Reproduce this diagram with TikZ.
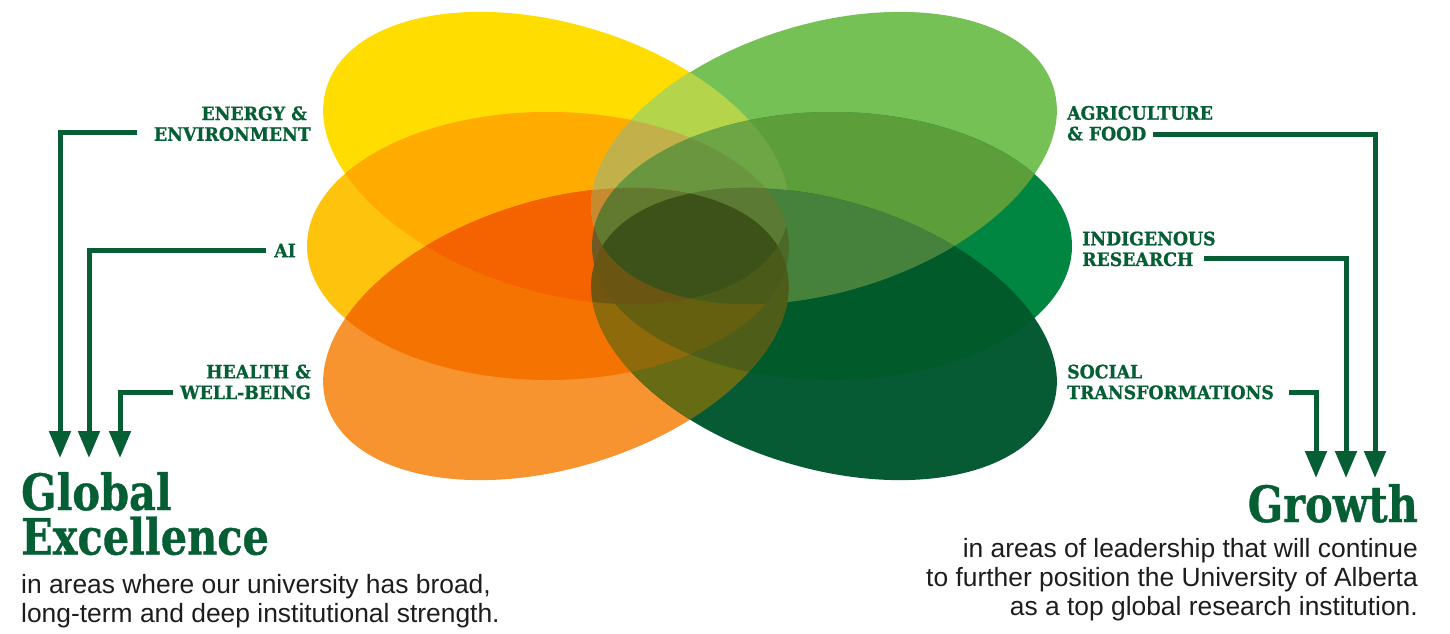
\documentclass[tikz,border=0pt]{standalone}
\usepackage{fontspec}
\setmainfont{Liberation Sans}
\newfontfamily\slabfont[FakeBold=0.8]{DejaVu Serif}
\newfontfamily\labfont[FakeStretch=0.935,FakeBold=1]{DejaVu Serif}
\usetikzlibrary{arrows.meta}
\definecolor{uagreen}{HTML}{065E34}
\definecolor{bodygray}{HTML}{1E1C1C}
% single leaves
\definecolor{cY}{HTML}{FFDD00}\definecolor{cA}{HTML}{FDC30D}\definecolor{cO}{HTML}{F7942F}
\definecolor{cL}{HTML}{76C155}\definecolor{cM}{HTML}{008640}\definecolor{cD}{HTML}{075B34}
% overlaps
\definecolor{cYA}{HTML}{FFAB00}\definecolor{cAO}{HTML}{F57300}\definecolor{cYO}{HTML}{F56200}
\definecolor{cYL}{HTML}{B3D44B}\definecolor{cLM}{HTML}{5C9E3A}\definecolor{cMD}{HTML}{005A2A}
\definecolor{cOD}{HTML}{666B14}\definecolor{cLD}{HTML}{46823C}\definecolor{cAM}{HTML}{5E6A2A}
\definecolor{cYAO}{HTML}{F56200}\definecolor{cYAL}{HTML}{C2B04A}\definecolor{cYLM}{HTML}{6EA646}
\definecolor{cLMD}{HTML}{46823C}\definecolor{cAOD}{HTML}{8F6A0A}\definecolor{cOMD}{HTML}{4E5E19}
\definecolor{cYALM}{HTML}{6A9640}\definecolor{cAOMD}{HTML}{646010}\definecolor{cYAOL}{HTML}{C88A30}
\definecolor{cYAOD}{HTML}{70560F}\definecolor{cYAOM}{HTML}{6E5A22}\definecolor{cALMD}{HTML}{4B6A2A}
\definecolor{cYAOLM}{HTML}{627A30}\definecolor{cYALMD}{HTML}{5B7A34}\definecolor{cYAOMD}{HTML}{6B5512}
\definecolor{cAOLMD}{HTML}{4A5A18}\definecolor{cALL}{HTML}{3C5219}
\newcommand\clipY{\clip[rotate around={-17:(556,475)}] (556,475) ellipse [x radius=240,y radius=134];}
\newcommand\clipA{\clip (548,387) ellipse [x radius=241,y radius=134];}
\newcommand\clipO{\clip[rotate around={17:(556,299)}] (556,299) ellipse [x radius=240,y radius=134];}
\newcommand\clipL{\clip[rotate around={17:(824,475)}] (824,475) ellipse [x radius=240,y radius=134];}
\newcommand\clipM{\clip (832,387) ellipse [x radius=240,y radius=134];}
\newcommand\clipD{\clip[rotate around={-17:(824,299)}] (824,299) ellipse [x radius=240,y radius=134];}
\newcommand\paintreg[2]{\begin{scope}#1\fill[#2] (0,0) rectangle (1450,633);\end{scope}}
\begin{document}
\begin{tikzpicture}[x=1pt,y=1pt,
  lab/.style={text=uagreen, font=\labfont\bfseries\fontsize{18.5}{20.7}\selectfont, inner sep=0pt},
  head/.style={text=uagreen, font=\slabfont\bfseries\fontsize{50}{43}\selectfont, inner sep=0pt, xscale=0.83, transform shape},
  body/.style={text=bodygray, font=\fontsize{26.4}{29}\selectfont, inner sep=0pt},
  conn/.style={draw=uagreen, line width=5pt, -{Triangle[width=21pt,length=27pt]}}]
\useasboundingbox (0,0) rectangle (1450,633);
% ---- leaves (each region painted in order of how many leaves cover it)
\paintreg{\clipY}{cY}\paintreg{\clipA}{cA}\paintreg{\clipO}{cO}
\paintreg{\clipL}{cL}\paintreg{\clipM}{cM}\paintreg{\clipD}{cD}
\paintreg{\clipY\clipA}{cYA}\paintreg{\clipA\clipO}{cAO}\paintreg{\clipY\clipO}{cYO}
\paintreg{\clipY\clipL}{cYL}\paintreg{\clipL\clipM}{cLM}\paintreg{\clipM\clipD}{cMD}
\paintreg{\clipO\clipD}{cOD}\paintreg{\clipL\clipD}{cLD}\paintreg{\clipA\clipM}{cAM}
\paintreg{\clipY\clipA\clipO}{cYAO}\paintreg{\clipY\clipA\clipL}{cYAL}\paintreg{\clipY\clipL\clipM}{cYLM}
\paintreg{\clipL\clipM\clipD}{cLMD}\paintreg{\clipA\clipO\clipD}{cAOD}\paintreg{\clipO\clipM\clipD}{cOMD}
\paintreg{\clipY\clipA\clipL\clipM}{cYALM}\paintreg{\clipA\clipO\clipM\clipD}{cAOMD}
\paintreg{\clipY\clipA\clipO\clipL}{cYAOL}\paintreg{\clipY\clipA\clipO\clipD}{cYAOD}
\paintreg{\clipY\clipA\clipO\clipM}{cYAOM}\paintreg{\clipA\clipL\clipM\clipD}{cALMD}
\paintreg{\clipY\clipA\clipO\clipL\clipM}{cYAOLM}\paintreg{\clipY\clipA\clipL\clipM\clipD}{cYALMD}
\paintreg{\clipY\clipA\clipO\clipM\clipD}{cYAOMD}\paintreg{\clipA\clipO\clipL\clipM\clipD}{cAOLMD}
\paintreg{\clipY\clipA\clipO\clipL\clipM\clipD}{cALL}
% ---- labels
\node[lab, align=right, anchor=east] (enen) at (311,509.3) {ENERGY \&\kern4pt\\ENVIRONMENT};
\node[lab, anchor=east] (ai) at (296,382.5) {AI};
\node[lab, align=right, anchor=east] (hw) at (311,251) {HEALTH \&\\WELL-BEING};
\node[lab, align=left, anchor=west] (af) at (1067,509.7) {AGRICULTURE\\\& FOOD};
\node[lab, align=left, anchor=west] (ir) at (1082,384.1) {INDIGENOUS\\RESEARCH};
\node[lab, align=left, anchor=west] (st) at (1067,251) {SOCIAL\\TRANSFORMATIONS};
% ---- headings and texts
\node[head, anchor=base west] (glob) at (21,123) {Global};
\node[head, anchor=base west] (exc) at (21,78.5) {Excellence};
\node[head, anchor=base east] (gr) at (1418,111) {Growth};
\node[body, align=left, anchor=north west] (getxt) at (21,59) {in areas where our university has broad,\\long-term and deep institutional strength.};
\node[body, align=right, anchor=north east] (grtxt) at (1418,95) {in areas of leadership that will continue\\to further position the University of Alberta\\as a top global research institution.};
% ---- connectors
\coordinate (s1) at (137,500); \coordinate (t1) at (60,175);
\coordinate (s2) at (266,383); \coordinate (t2) at (89,175);
\coordinate (s3) at (173,240.3); \coordinate (t3) at (120,175);
\coordinate (r1) at (1153,498.7); \coordinate (u1) at (1375,155);
\coordinate (r2) at (1204,374.7); \coordinate (u2) at (1346,155);
\coordinate (r3) at (1289,240.3); \coordinate (u3) at (1316,155);
\draw[conn] (s1) -| (t1);
\draw[conn] (s2) -| (t2);
\draw[conn] (s3) -| (t3);
\draw[conn] (r1) -| (u1);
\draw[conn] (r2) -| (u2);
\draw[conn] (r3) -| (u3);
\end{tikzpicture}
\end{document}
